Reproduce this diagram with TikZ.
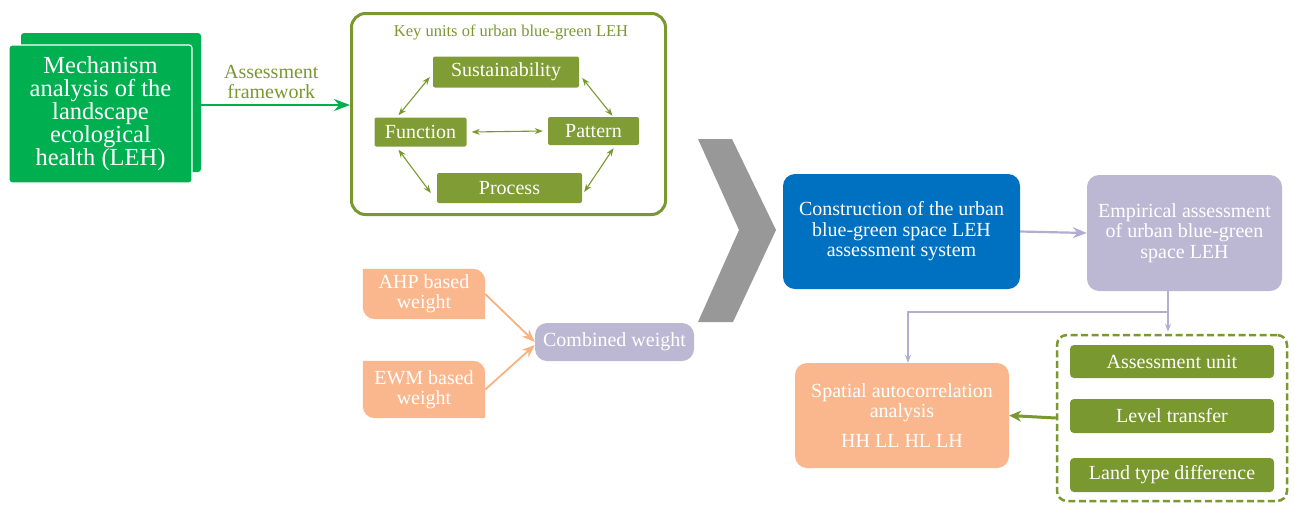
\documentclass[tikz,border=0pt]{standalone}
\usepackage{fontspec}
\setmainfont{Liberation Serif}
\usetikzlibrary{arrows.meta,backgrounds}

\definecolor{mechgreen}{RGB}{0,176,80}
\definecolor{olive}{RGB}{122,152,48}
\definecolor{keyolive}{RGB}{128,156,52}
\definecolor{bluebox}{RGB}{0,112,192}
\definecolor{lavender}{RGB}{188,184,212}
\definecolor{lavline}{RGB}{178,174,210}
\definecolor{salmon}{RGB}{250,183,142}
\definecolor{chevgray}{RGB}{152,152,152}

\newcommand{\txtsize}[2]{\fontsize{#1}{#2}\selectfont}

\begin{document}
\begin{tikzpicture}[x=1pt, y=-1pt]
        % basic settings
        \useasboundingbox (0,0) rectangle (1295,504);
        \tikzstyle{olivebox} = [rectangle, rounded corners=2pt, fill=olive, text=white, font=\txtsize{20}{22}, inner sep=0pt]
        \tikzstyle{bigbox} = [rectangle, rounded corners=12pt, text=white, align=center, inner sep=0pt]
        \tikzstyle{leafbox} = [rectangle, text=white, align=center, font=\txtsize{20}{20}, inner sep=0pt, minimum width=122pt]
        \tikzstyle{keyarrow} = [olive, line width=1.1pt, {Stealth[length=8pt,width=6pt]}-{Stealth[length=8pt,width=6pt]}]
        \tikzstyle{lavarrow} = [lavline, line width=1.3pt]

        % 1. mechanism analysis (two stacked sheets)
        \node[bigbox, fill=mechgreen, rounded corners=3pt, minimum width=180pt, minimum height=139pt] (mechback) at (111,102.5) {};
        \node[bigbox, fill=mechgreen, draw=white, line width=1.2pt, rounded corners=3pt, minimum width=183pt, minimum height=138pt, font=\txtsize{24.5}{23}] (mech) at (100.5,114) {Mechanism\\analysis of the\\landscape\\ecological\\health (LEH)};

        % 2. key units box
        \node[draw=olive, line width=3pt, rounded corners=14pt, minimum width=314pt, minimum height=201pt] (keybox) at (508.5,114) {};
        \node[text=olive, font=\txtsize{16.5}{18}] (keytitle) at (511,32) {Key units of urban blue-green LEH};

        \node[olivebox, fill=keyolive, minimum width=146pt, minimum height=31pt] (sust) at (506,72) {Sustainability};
        \node[olivebox, fill=keyolive, minimum width=92pt, minimum height=29pt] (func) at (420.5,132) {Function};
        \node[olivebox, fill=keyolive, minimum width=91pt, minimum height=28pt] (patt) at (593.5,131) {Pattern};
        \node[olivebox, fill=keyolive, minimum width=145pt, minimum height=30pt] (proc) at (509.5,188) {Process};

        \draw[keyarrow] ([xshift=-22pt,yshift=2pt]func.north) -- ([xshift=-3pt,yshift=-5pt]sust.west);
        \draw[keyarrow] ([xshift=3pt,yshift=-6pt]sust.east) -- ([xshift=19pt,yshift=1pt]patt.north);
        \draw[keyarrow] ([xshift=5pt]func.east) -- ([xshift=-5pt]patt.west);
        \draw[keyarrow] ([xshift=-22pt,yshift=-3pt]func.south) -- ([xshift=-6pt,yshift=-5pt]proc.west);
        \draw[keyarrow] ([xshift=20pt,yshift=-3pt]patt.south) -- ([xshift=2pt,yshift=-4pt]proc.east);

        % arrow from mechanism to key units
        \draw[mechgreen, line width=2.5pt, -{Stealth[length=16pt,width=12pt]}] ([yshift=9pt]mech.east) -- node[above=2pt, text=olive, font=\txtsize{20}{20}, align=center] {Assessment\\framework} ([yshift=9pt]keybox.west);

        % 3. big grey chevron
        \fill[chevgray] (698,139) -- (732,139) -- (776,230) -- (733,322) -- (698,322) -- (739,230) -- cycle;

        % 4. weights
        \node[leafbox, minimum height=50pt] (ahp) at (424,294) {AHP based\\weight};
        \node[leafbox, minimum height=57pt] (ewm) at (424,389.5) {EWM based\\weight};
        \begin{scope}[on background layer]
            \fill[salmon] (ahp.south west) -- (ahp.north west) [rounded corners=12pt] -- (ahp.north east) [sharp corners] -- (ahp.south east) [rounded corners=12pt] -- (ahp.south west) [sharp corners] -- cycle;
            \fill[salmon] (ewm.south west) -- (ewm.north west) [rounded corners=12pt] -- (ewm.north east) [sharp corners] -- (ewm.south east) [rounded corners=12pt] -- (ewm.south west) [sharp corners] -- cycle;
        \end{scope}
        \node[bigbox, fill=lavender, minimum width=159pt, minimum height=38pt, font=\txtsize{20}{20}] (comb) at (614.5,342) {Combined weight};
        \draw[salmon!90!orange, line width=1.8pt, -{Stealth[length=13pt,width=10pt]}] (ahp.east) -- (comb.west);
        \draw[salmon!90!orange, line width=1.8pt, -{Stealth[length=13pt,width=10pt]}] (ewm.east) -- ([yshift=-3pt]comb.west);

        % 5. assessment system and empirical assessment
        \node[bigbox, fill=bluebox, minimum width=237pt, minimum height=115pt, font=\txtsize{20}{20.5}] (cons) at (901.5,231.5) {Construction of the urban\\blue-green space LEH\\assessment system};
        \node[bigbox, fill=lavender, minimum width=195pt, minimum height=116pt, font=\txtsize{20}{20.5}] (emp) at (1184.5,233) {Empirical assessment\\of urban blue-green\\space LEH};
        \draw[lavline, line width=2.2pt, -{Stealth[length=14pt,width=11pt]}] (cons.east) -- (emp.west);

        % 6. spatial analysis and dashed group
        \node[bigbox, fill=salmon, minimum width=214pt, minimum height=105pt, font=\txtsize{20}{20.5}] (spat) at (902,415.5) {Spatial autocorrelation\\analysis\\[9pt]HH LL HL LH};
        \node[draw=olive, dash pattern=on 7pt off 3.5pt, line width=2.5pt, rounded corners=10pt, minimum width=230pt, minimum height=166pt] (dash) at (1172,418) {};

        \node[olivebox, rounded corners=4pt, minimum width=204pt, minimum height=33pt] (unit) at (1172,361.5) {Assessment unit};
        \node[olivebox, rounded corners=4pt, minimum width=204pt, minimum height=34pt] (level) at (1172,416) {Level transfer};
        \node[olivebox, rounded corners=4pt, minimum width=204pt, minimum height=34pt] (land) at (1172,475) {Land type difference};

        \draw[olive, line width=3pt, -{Stealth[length=12pt,width=11pt]}] (dash.west) -- (spat.east);

        % connectors from the empirical assessment
        \coordinate (split) at (1168,312);
        \draw[lavarrow] (split |- emp.south) -- (split);
        \draw[lavarrow, -{Stealth[length=8pt,width=6pt]}] (split) -- ([yshift=2pt]split |- dash.north);
        \draw[lavarrow, -{Stealth[length=8pt,width=6pt]}] (split) -| ([xshift=6pt]spat.north);

    \end{tikzpicture}
\end{document}
